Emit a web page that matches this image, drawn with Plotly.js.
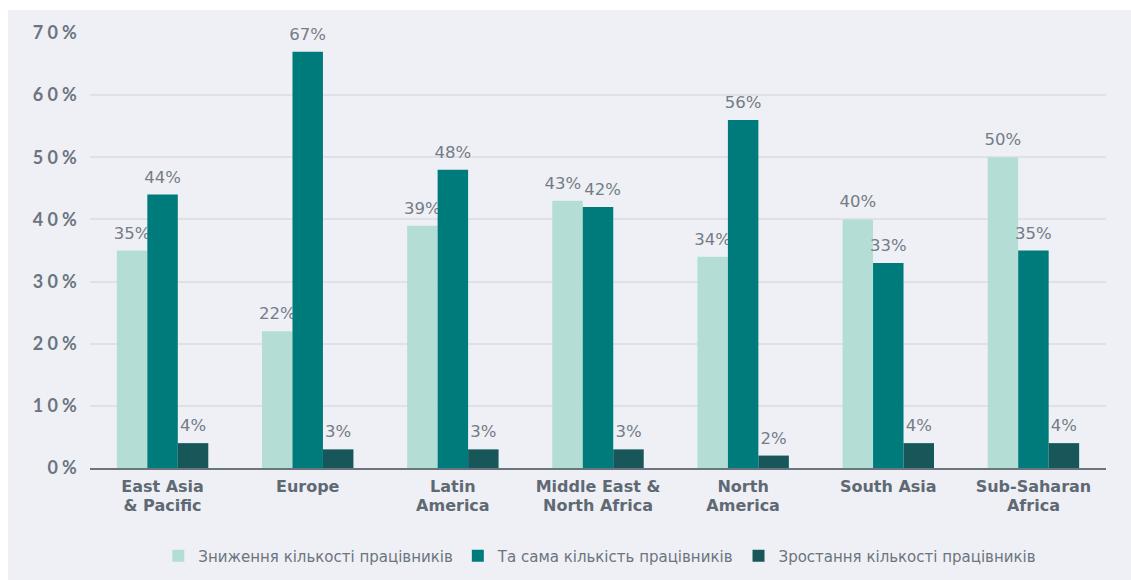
<!DOCTYPE html>
<html>
<head>
<meta charset="utf-8">
<script src="https://cdn.plot.ly/plotly-3.0.1.min.js"></script>
<style>
  html, body { margin: 0; padding: 0; background: #ffffff; width: 1131px; height: 580px; overflow: hidden; }
  #chart { position: absolute; left: 8px; top: 10px; width: 1123px; height: 570px; }
  .ytick text { letter-spacing: 4.2px; }
</style>
</head>
<body>
<div id="chart"></div>
<script>
const categories = ["East Asia<br>& Pacific", "Europe", "Latin<br>America", "Middle East &<br>North Africa", "North<br>America", "South Asia", "Sub-Saharan<br>Africa"];
const seriesNames = ["Зниження кількості працівників", "Та сама кількість працівників", "Зростання кількості працівників"];
const decrease = [35, 22, 39, 43, 34, 40, 50];
const same = [44, 67, 48, 42, 56, 33, 35];
const increase = [4, 3, 3, 3, 2, 4, 4];
const yTicks = [0, 10, 20, 30, 40, 50, 60, 70];
const yTickText = ["0%", "10%", "20%", "30%", "40%", "50%", "60%", "70%"];

const colors = ["#b4ded5", "#007b7c", "#175759"];
const textColor = "#6b7480";
const font = "Lato, 'Open Sans', 'Noto Sans', sans-serif";

function mk(name, vals, color) {
  return {
    type: "bar",
    name: name,
    x: categories,
    y: vals,
    marker: { color: color, line: { width: 0 } },
    text: vals.map(v => v + "%"),
    textposition: "outside",
    constraintext: "none",
    cliponaxis: false,
    textfont: { family: "'DejaVu Sans', sans-serif", size: 16.5, color: "#737c87", weight: "normal" },
    hoverinfo: "skip"
  };
}

const data = [
  mk(seriesNames[0], decrease, colors[0]),
  mk(seriesNames[1], same, colors[1]),
  mk(seriesNames[2], increase, colors[2])
];

const layout = {
  width: 1123,
  height: 570,
  paper_bgcolor: "#eff0f5",
  plot_bgcolor: "#eff0f5",
  margin: { l: 82, r: 25, t: 23, b: 112 },
  barmode: "group",
  bargap: 0.37,
  bargroupgap: 0,
  showlegend: true,
  legend: {
    orientation: "h",
    xref: "container", yref: "container",
    x: 0.527, xanchor: "center",
    y: 0.042, yanchor: "middle",
    font: { family: "'DejaVu Sans', sans-serif", size: 15, color: textColor, style: "normal" },
    itemwidth: 30,
    bgcolor: "rgba(0,0,0,0)"
  },
  xaxis: {
    type: "category",
    showgrid: false,
    zeroline: false,
    showline: true,
    linecolor: "#6b7580",
    linewidth: 2,
    ticks: "",
    ticklabelstandoff: 3,
    tickfont: { family: "'DejaVu Sans', sans-serif", size: 16, color: "#5f6974", weight: "bold" }
  },
  yaxis: {
    range: [0, 70],
    tickvals: yTicks,
    ticktext: yTickText,
    showgrid: true,
    gridcolor: "#e0e1e6",
    gridwidth: 2,
    zeroline: false,
    showline: false,
    ticks: "",
    ticklabelstandoff: 8,
    tickfont: { family: font, size: 18, color: textColor, weight: "bold" }
  },
  font: { family: font, color: textColor }
};

Plotly.newPlot("chart", data, layout, { displayModeBar: false, staticPlot: true }).then(function (gd) {
  // tighten line spacing of two-line category labels
  gd.querySelectorAll(".xtick text tspan.line").forEach(function (ts) {
    const dy = ts.getAttribute("dy");
    if (dy && parseFloat(dy) > 0) ts.setAttribute("dy", "1.2em");
  });
  // lift value labels a little above the bars
  const labels = Array.from(gd.querySelectorAll("text.bartext"));
  labels.forEach(function (t) {
    const y = parseFloat(t.getAttribute("y"));
    if (!isNaN(y)) t.setAttribute("y", y - 5);
  });
  // push apart neighbouring value labels that collide
  for (let i = 0; i < labels.length; i++) {
    for (let j = 0; j < labels.length; j++) {
      if (i === j) continue;
      const a = labels[i].getBoundingClientRect();
      const b = labels[j].getBoundingClientRect();
      if (a.left < b.left && a.right > b.left - 2 &&
          a.top < b.bottom && b.top < a.bottom) {
        const ov = (a.right - b.left + 3) / 2;
        labels[i].setAttribute("x", parseFloat(labels[i].getAttribute("x")) - ov);
        labels[j].setAttribute("x", parseFloat(labels[j].getAttribute("x")) + ov);
      }
    }
  }
});
</script>
</body>
</html>
